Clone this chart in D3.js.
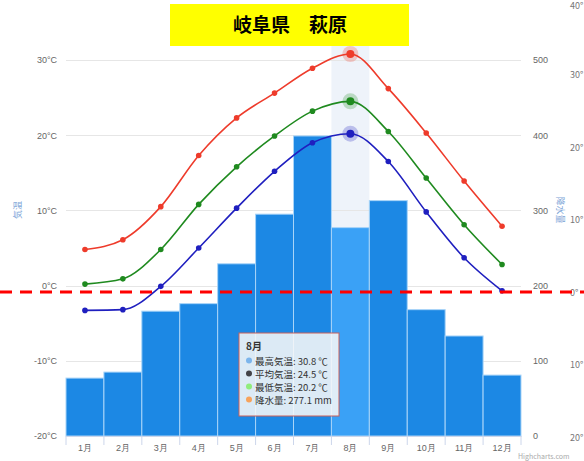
<!DOCTYPE html>
<html>
<head>
<meta charset="utf-8">
<script src="https://cdn.jsdelivr.net/npm/d3@7"></script>
<style>
  body { margin: 0; background: #fff; }
  svg { display: block; font-family: "Noto Sans CJK JP", "Noto Sans", sans-serif; }
</style>
</head>
<body>
<svg id="chart" width="584" height="461"></svg>
<script>
// data
var months = ["1月","2月","3月","4月","5月","6月","7月","8月","9月","10月","11月","12月"];
var tempMax = [4.8, 6.1, 10.5, 17.3, 22.3, 25.6, 28.9, 30.8, 26.2, 20.3, 13.9, 7.9];
var tempAvg = [0.2, 0.9, 4.8, 10.8, 15.8, 19.9, 23.2, 24.5, 20.5, 14.3, 8.1, 2.8];
var tempMin = [-3.3, -3.2, -0.1, 5.0, 10.3, 15.2, 19.0, 20.2, 16.5, 9.8, 3.7, -0.7];
var precip = [77, 85, 166, 176, 229, 295, 399, 277.1, 313, 168, 133, 81];
var tempTicks = [-20, -10, 0, 10, 20, 30];
var precipTicks = [0, 100, 200, 300, 400, 500];
var ghostTicks = ["40°", "30°", "20°", "10°", "0°", "10°", "20°"];
var hoverIndex = 7;

var svg = d3.select("#chart");
var plotLeft = 66, plotRight = 521, plotTop = 60, plotBottom = 436;

var x = d3.scaleBand().domain(months).range([plotLeft, plotRight]).padding(0);
var yT = d3.scaleLinear().domain([-20, 30]).range([plotBottom, plotTop]);
var yP = d3.scaleLinear().domain([0, 500]).range([plotBottom, plotTop]);

// hover band
svg.append("rect")
  .attr("x", x(months[hoverIndex])).attr("y", 20)
  .attr("width", x.bandwidth()).attr("height", plotBottom - 20)
  .attr("fill", "#eef3fa");

// gridlines
svg.append("g").selectAll("line").data(tempTicks).enter().append("line")
  .attr("x1", plotLeft).attr("x2", plotRight)
  .attr("y1", function(d){ return Math.round(yT(d)) + 0.5; })
  .attr("y2", function(d){ return Math.round(yT(d)) + 0.5; })
  .attr("stroke", "#e6e6e6");

// left axis
var gl = svg.append("g").attr("transform", "translate(" + plotLeft + ",0)")
  .call(d3.axisLeft(yT).tickValues(tempTicks).tickSize(0).tickPadding(9)
    .tickFormat(function(d){ return d + "°C"; }));
gl.select(".domain").remove();
gl.selectAll("text").attr("fill", "#666").attr("font-size", 9);

// right axis
var gr = svg.append("g").attr("transform", "translate(" + plotRight + ",0)")
  .call(d3.axisRight(yP).tickValues(precipTicks).tickSize(0).tickPadding(12));
gr.select(".domain").remove();
gr.selectAll("text").attr("fill", "#666").attr("font-size", 9);

// axis titles
svg.append("text").attr("transform", "translate(21,210) rotate(-90)")
  .attr("text-anchor", "middle").attr("font-size", 9).attr("fill", "#7ea6d8").text("気温");
svg.append("text").attr("transform", "translate(557,210) rotate(90)")
  .attr("text-anchor", "middle").attr("font-size", 9).attr("fill", "#7ea6d8").text("降水量");

// bars
svg.append("g").selectAll("rect").data(precip).enter().append("rect")
  .attr("x", function(d, i){ return x(months[i]); })
  .attr("y", function(d){ return yP(d); })
  .attr("width", x.bandwidth())
  .attr("height", function(d){ return plotBottom - yP(d); })
  .attr("fill", function(d, i){ return i === hoverIndex ? "#3aa1f6" : "#1c88e4"; })
  .attr("stroke", "#a8d4f8").attr("stroke-width", 1);

// x axis
var gx = svg.append("g").attr("transform", "translate(0," + plotBottom + ")")
  .call(d3.axisBottom(x).tickSize(0).tickPadding(9));
gx.select(".domain").attr("stroke", "#ccd6eb");
gx.selectAll("text").attr("fill", "#666").attr("font-size", 9);
svg.append("g").selectAll("line").data(months.concat([null])).enter().append("line")
  .attr("x1", function(d, i){ return plotLeft + i * x.bandwidth(); })
  .attr("x2", function(d, i){ return plotLeft + i * x.bandwidth(); })
  .attr("y1", plotBottom).attr("y2", plotBottom + 9)
  .attr("stroke", "#ccd6eb");

// temperature lines
var series = [
  { values: tempMax, color: "#ee3b2b" },
  { values: tempAvg, color: "#1f8a1f" },
  { values: tempMin, color: "#1f1fbf" }
];
var line = d3.line()
  .x(function(d, i){ return x(months[i]) + x.bandwidth() / 2; })
  .y(function(d){ return yT(d); })
  .curve(d3.curveMonotoneX);

series.forEach(function(s){
  svg.append("path").datum(s.values).attr("d", line)
    .attr("fill", "none").attr("stroke", s.color).attr("stroke-width", 1.6);
  svg.append("circle")
    .attr("cx", x(months[hoverIndex]) + x.bandwidth() / 2)
    .attr("cy", yT(s.values[hoverIndex]))
    .attr("r", 8).attr("fill", s.color).attr("opacity", 0.25);
  svg.append("g").selectAll("circle").data(s.values).enter().append("circle")
    .attr("cx", function(d, i){ return x(months[i]) + x.bandwidth() / 2; })
    .attr("cy", function(d){ return yT(d); })
    .attr("r", function(d, i){ return i === hoverIndex ? 4 : 2.8; })
    .attr("fill", s.color);
});

// tooltip
var tip = svg.append("g").attr("transform", "translate(239,333)");
tip.append("rect").attr("width", 100).attr("height", 83)
  .attr("fill", "#f7f7f7").attr("fill-opacity", 0.88)
  .attr("stroke", "#c8605a").attr("stroke-width", 1);
tip.append("text").attr("x", 7).attr("y", 17).attr("font-size", 10)
  .attr("font-weight", "bold").attr("fill", "#333").text(months[hoverIndex]);
var tipRows = [
  { label: "最高気温", value: tempMax[hoverIndex] + " ℃", dot: "#7cb5ec" },
  { label: "平均気温", value: tempAvg[hoverIndex] + " ℃", dot: "#434348" },
  { label: "最低気温", value: tempMin[hoverIndex] + " ℃", dot: "#90ed7d" },
  { label: "降水量", value: precip[hoverIndex] + " mm", dot: "#f7a35c" }
];
tipRows.forEach(function(r, i){
  var yy = 28 + i * 13;
  tip.append("circle").attr("cx", 10).attr("cy", yy - 0.5).attr("r", 3).attr("fill", r.dot);
  tip.append("text").attr("x", 16).attr("y", yy + 3.5).attr("font-size", 9.5)
    .attr("fill", "#333").text(r.label + ": " + r.value);
});

// ghost axis at right edge
svg.append("g").selectAll("text").data(ghostTicks).enter().append("text")
  .attr("x", 570)
  .attr("y", function(d, i){ return i === 0 ? 9 : 78 + (i - 1) * 72.5; })
  .attr("font-size", 9).attr("fill", "#777").text(function(d){ return d; });
svg.append("text").attr("x", 518).attr("y", 459).attr("font-size", 7)
  .attr("fill", "#aaa").text("Highcharts.com");

// red dashed reference line
svg.append("line").attr("x1", 0).attr("x2", 584).attr("y1", 292).attr("y2", 292)
  .attr("stroke", "#f00").attr("stroke-width", 3).attr("stroke-dasharray", "12,8");

// title
svg.append("rect").attr("x", 170).attr("y", 4).attr("width", 239).attr("height", 42).attr("fill", "#ffff00");
svg.append("text").attr("x", 290).attr("y", 32).attr("text-anchor", "middle")
  .attr("font-size", 19).attr("font-weight", "bold").attr("fill", "#000").text("岐阜県　萩原");
</script>
</body>
</html>
